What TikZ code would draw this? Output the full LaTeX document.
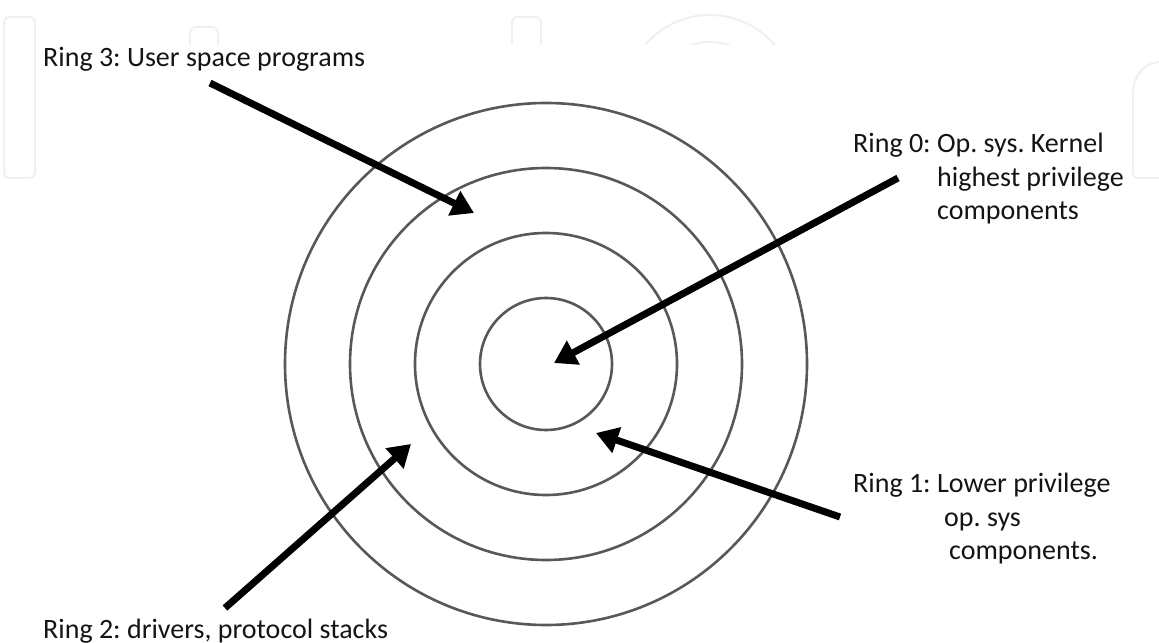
\documentclass[tikz,border=0pt]{standalone}
\usepackage{fontspec}
\setmainfont{Carlito}
\frenchspacing
\usetikzlibrary{arrows.meta}
\definecolor{ringgray}{HTML}{585858}
\definecolor{wmgray}{HTML}{F0F0F0}
\begin{document}
\begin{tikzpicture}[x=1bp,y=-1bp,
  ring/.style={circle, draw=ringgray, line width=2.6bp, inner sep=0pt},
  bigarrow/.style={line width=7bp, -{Triangle[length=22bp,width=26bp]}},
  lbl/.style={anchor=base west, inner sep=0pt, font=\fontsize{28bp}{34bp}\selectfont, text=black!92},
  wm/.style={draw=wmgray, line width=2bp, rounded corners=5bp}]
\useasboundingbox[fill=white] (0,0) rectangle (1159,643);
% faint watermark
\draw[wm] (4,17) rectangle (35,178);
\draw[wm] (190,45) -- (190,27) -- (218,27) -- (218,45);
\draw[wm] (512,45) -- (512,17) -- (541,17) -- (541,45);
\begin{scope}
  \clip (600,0) rectangle (820,45);
  \draw[draw=wmgray, line width=2bp] (710,100) circle[radius=85];
  \draw[draw=wmgray, line width=2bp] (710,100) circle[radius=58];
\end{scope}
\draw[draw=wmgray, line width=2bp] (1159,178) -- (1138,178)
  .. controls (1134,178) and (1133,176) .. (1133,172) -- (1133,95)
  .. controls (1133,75) and (1145,63) .. (1159,62);
% rings
\node[ring, minimum size=522bp] (r3) at (546,364) {};
\node[ring, minimum size=392bp] (r2) at (546,364) {};
\node[ring, minimum size=262bp] (r1) at (546,364) {};
\node[ring, minimum size=132bp] (r0) at (546,364) {};
% labels
\node[lbl] (t3) at (43,67) {Ring 3: User space programs};
\node[lbl] (t0a) at (853,153) {Ring 0: Op. sys. Kernel};
\node[lbl] (t0b) at (937,187) {highest privilege};
\node[lbl] (t0c) at (937,220) {components};
\node[lbl] (t1a) at (853,492) {Ring 1: Lower privilege};
\node[lbl] (t1b) at (944,526) {op. sys};
\node[lbl] (t1c) at (949,559) {components.};
\node[lbl] (t2) at (43,638) {Ring 2: drivers, protocol stacks};
% arrow end points
\coordinate (a3s) at (210,83);
\coordinate (a3e) at (474,213);
\coordinate (a0s) at (898,178);
\coordinate (a0e) at (554,363);
\coordinate (a1s) at (840,517);
\coordinate (a1e) at (596,433);
\coordinate (a2s) at (225,608);
\coordinate (a2e) at (411,444);
\draw[bigarrow] (a3s) -- (a3e);
\draw[bigarrow] (a0s) -- (a0e);
\draw[bigarrow] (a1s) -- (a1e);
\draw[bigarrow] (a2s) -- (a2e);
\end{tikzpicture}
\end{document}
